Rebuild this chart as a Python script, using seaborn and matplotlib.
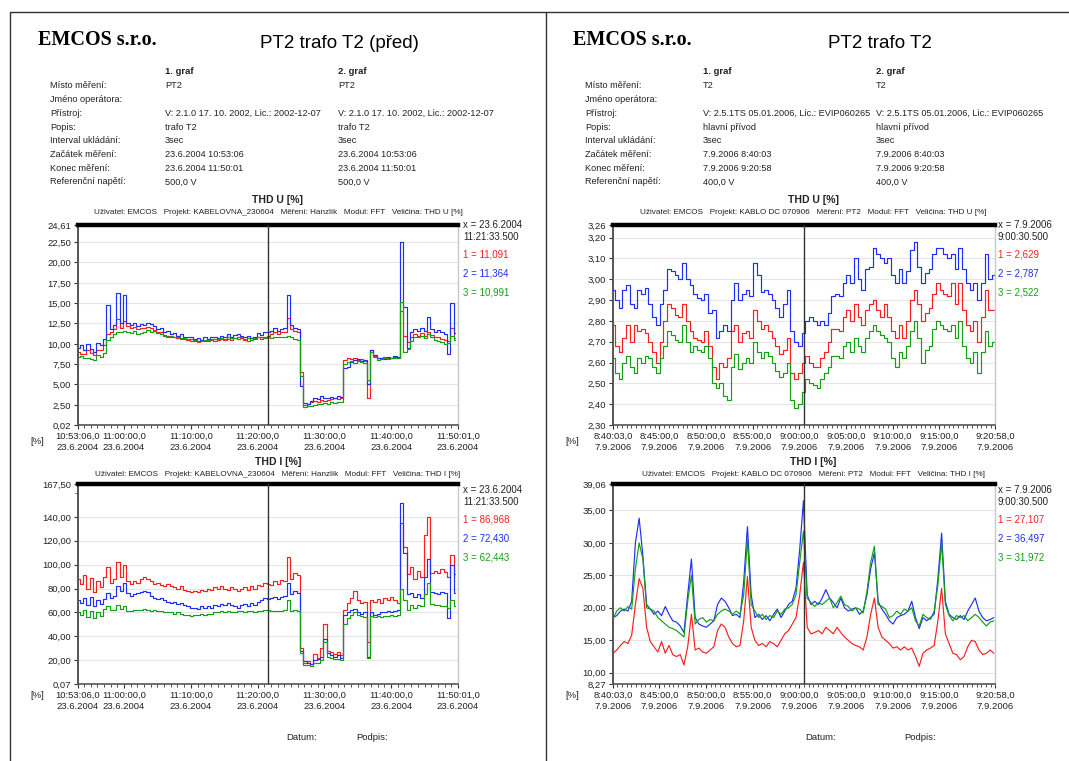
import numpy as np
import pandas as pd
import matplotlib
matplotlib.use("Agg")
import matplotlib.pyplot as plt
from matplotlib.lines import Line2D
from matplotlib.ticker import FixedLocator
import seaborn as sns

# ---------------- data ----------------
# left page: THD U [%] and THD I [%], samples every 0.5 min from 10:53:06
left_t = np.arange(114) * 0.5
left_u_red = [9.0, 8.8, 8.7, 9.2, 8.9, 8.6, 9.3, 9.2, 9.8, 11.2,
              11.5, 11.8, 13.0, 12.0, 12.8, 12.2, 11.9, 12.1, 11.8, 12.0,
              11.9, 12.1, 11.9, 11.7, 11.4, 11.5, 11.1, 11.0, 10.9, 10.8,
              10.7, 10.6, 10.6, 10.5, 10.4, 10.3, 10.2, 10.3, 10.4, 10.4,
              10.5, 10.4, 10.5, 10.6, 10.5, 10.6, 10.5, 10.7, 10.6, 10.7,
              10.5, 10.4, 10.5, 10.6, 10.8, 10.6, 10.9, 11.0, 11.2, 11.4,
              11.2, 11.4, 11.5, 13.2, 11.8, 11.6, 11.4, 6.5, 2.5, 2.6,
              2.8, 3.0, 2.9, 3.1, 3.0, 3.1, 3.2, 3.3, 3.2, 3.3,
              8.0, 8.2, 8.1, 8.2, 8.0, 8.1, 7.9, 3.3, 9.3, 8.5,
              8.3, 8.2, 8.4, 8.3, 8.2, 8.4, 8.3, 14.0, 11.0, 10.2,
              10.8, 11.2, 11.0, 11.3, 11.0, 11.5, 11.1, 10.9, 10.8, 10.6,
              10.5, 10.3, 12.0, 10.7]
left_u_blue = [9.5, 9.8, 9.2, 10.0, 9.4, 9.0, 10.1, 9.8, 10.6, 14.8,
               11.8, 12.3, 16.2, 12.5, 16.0, 12.6, 12.3, 12.6, 12.2, 12.4,
               12.3, 12.5, 12.4, 12.2, 11.8, 11.9, 11.4, 11.6, 11.2, 11.3,
               11.0, 11.2, 10.9, 10.8, 10.9, 10.6, 10.7, 10.5, 10.8, 10.6,
               10.9, 10.8, 10.7, 11.0, 10.8, 11.2, 10.9, 11.1, 11.2, 11.0,
               10.8, 11.0, 10.7, 10.9, 11.3, 11.1, 11.5, 11.5, 11.6, 11.9,
               11.6, 11.8, 12.0, 16.0, 12.3, 12.0, 11.8, 4.8, 2.7, 2.6,
               3.0, 3.3, 3.2, 3.6, 3.3, 3.4, 3.5, 3.4, 3.6, 3.5,
               7.0, 7.2, 7.8, 8.0, 8.1, 7.9, 8.0, 5.0, 9.2, 8.6,
               8.2, 8.3, 8.1, 8.4, 8.3, 8.5, 8.4, 22.5, 14.5, 9.5,
               11.5, 11.8, 11.6, 11.9, 11.6, 13.3, 11.8, 11.4, 11.7, 11.5,
               11.2, 8.7, 15.0, 11.3]
left_u_green = [8.4, 8.5, 8.2, 8.3, 8.1, 8.0, 8.6, 8.4, 8.9, 10.5,
                10.9, 11.2, 11.4, 11.5, 11.6, 11.4, 11.3, 11.6, 11.2, 11.3,
                11.4, 11.7, 11.5, 11.6, 11.3, 11.2, 11.0, 10.9, 11.0, 10.9,
                10.8, 10.7, 10.7, 10.6, 10.6, 10.5, 10.4, 10.4, 10.5, 10.5,
                10.6, 10.6, 10.6, 10.7, 10.6, 10.8, 10.7, 10.7, 10.8, 10.8,
                10.6, 10.7, 10.5, 10.7, 10.9, 10.8, 10.7, 10.8, 10.7, 10.9,
                10.8, 10.9, 10.8, 11.0, 10.9, 10.6, 10.5, 6.0, 2.2, 2.3,
                2.4, 2.5, 2.6, 2.6, 2.7, 2.6, 2.8, 2.7, 2.8, 2.9,
                7.5, 7.8, 7.9, 7.7, 7.9, 7.8, 7.7, 5.5, 9.0, 8.4,
                8.0, 8.1, 8.2, 8.1, 8.2, 8.3, 8.2, 15.2, 9.0, 9.4,
                10.3, 10.9, 10.8, 11.0, 10.7, 11.2, 10.8, 10.5, 10.4, 10.2,
                10.0, 10.1, 11.0, 10.5]
left_i_red = [88, 84, 91, 80, 89, 77, 86, 81, 90, 98,
              85, 88, 102, 90, 100, 86, 84, 86, 85, 88,
              90, 88, 86, 84, 85, 83, 82, 84, 82, 81,
              80, 82, 79, 78, 77, 78, 77, 79, 78, 80,
              79, 81, 80, 82, 80, 79, 81, 80, 78, 80,
              81, 79, 82, 80, 83, 82, 85, 84, 83, 86,
              84, 87, 86, 106, 88, 93, 91, 30, 18, 19,
              17, 25, 22, 30, 50, 28, 27, 25, 27, 24,
              62, 68, 72, 78, 70, 68, 69, 35, 70, 69,
              71, 68, 72, 70, 73, 70, 68, 135, 115, 92,
              98, 88, 95, 90, 125, 140, 93, 95, 93, 96,
              94, 90, 108, 92]
left_i_blue = [70, 68, 72, 66, 73, 65, 70, 67, 71, 76,
               72, 74, 82, 78, 85, 76, 74, 75, 76, 77,
               78, 77, 74, 72, 71, 72, 70, 69, 68, 69,
               67, 68, 66, 65, 64, 64, 63, 65, 64, 65,
               64, 66, 65, 67, 66, 68, 66, 65, 64, 66,
               67, 65, 68, 66, 69, 70, 72, 71, 72, 73,
               71, 73, 74, 85, 75, 78, 76, 28, 19, 18,
               17, 20, 21, 23, 38, 26, 24, 23, 24, 22,
               58, 60, 62, 63, 60, 59, 60, 23, 60, 58,
               59, 60, 60, 61, 60, 61, 62, 152, 110, 75,
               76, 73, 75, 72, 90, 105, 77, 76, 75, 77,
               76, 55, 100, 76]
left_i_green = [60, 58, 62, 56, 61, 55, 60, 57, 63, 65,
                62, 62, 66, 63, 65, 61, 61, 62, 62, 62,
                63, 62, 61, 62, 61, 61, 60, 60, 60, 59,
                60, 59, 58, 58, 57, 58, 58, 59, 58, 59,
                59, 60, 60, 61, 60, 61, 60, 60, 61, 61,
                60, 61, 61, 60, 61, 61, 62, 62, 61, 61,
                61, 61, 62, 70, 61, 62, 61, 26, 16, 16,
                15, 18, 18, 20, 35, 23, 22, 21, 21, 20,
                50, 55, 58, 60, 58, 57, 56, 22, 57, 56,
                57, 56, 57, 57, 58, 57, 58, 80, 70, 62,
                66, 64, 66, 65, 75, 85, 67, 66, 66, 65,
                65, 64, 70, 65]

# right page: samples every 0.4 min from 8:40:03
right_t = np.arange(103) * 0.4
right_u_red = [2.78, 2.68, 2.65, 2.72, 2.78, 2.70, 2.78, 2.75, 2.76, 2.74,
               2.70, 2.65, 2.60, 2.70, 2.80, 2.88, 2.86, 2.83, 2.82, 2.88,
               2.80, 2.75, 2.72, 2.71, 2.70, 2.75, 2.68, 2.58, 2.52, 2.60,
               2.58, 2.62, 2.75, 2.78, 2.70, 2.74, 2.75, 2.72, 2.85, 2.80,
               2.76, 2.78, 2.75, 2.72, 2.68, 2.64, 2.66, 2.72, 2.55, 2.52,
               2.55, 2.60, 2.63, 2.60, 2.58, 2.58, 2.62, 2.65, 2.70, 2.76,
               2.76, 2.75, 2.82, 2.85, 2.80, 2.88, 2.82, 2.78, 2.85, 2.88,
               2.90, 2.85, 2.82, 2.88, 2.82, 2.75, 2.72, 2.78, 2.72, 2.80,
               2.90, 2.95, 2.88, 2.80, 2.84, 2.86, 2.93, 2.98, 2.95, 2.93,
               2.92, 2.98, 2.88, 2.98, 2.85, 2.78, 2.75, 2.80, 2.70, 2.82,
               2.95, 2.85, 2.85]
right_u_blue = [2.95, 2.90, 2.86, 2.95, 2.97, 2.88, 2.86, 2.95, 2.93, 2.96,
                2.88, 2.82, 2.78, 2.88, 2.95, 3.05, 3.04, 3.02, 3.00, 3.08,
                3.00, 2.97, 2.93, 2.91, 2.90, 2.93, 2.84, 2.85, 2.72, 2.75,
                2.78, 2.75, 2.90, 2.98, 2.90, 2.93, 2.95, 2.92, 3.08, 3.02,
                2.94, 2.95, 2.93, 2.90, 2.86, 2.82, 2.88, 2.95, 2.75, 2.70,
                2.68, 2.74, 2.80, 2.82, 2.80, 2.78, 2.80, 2.78, 2.84, 2.92,
                2.93, 2.92, 2.98, 3.02, 2.98, 3.10, 3.00, 2.95, 3.05, 3.06,
                3.15, 3.12, 3.10, 3.08, 3.10, 3.02, 2.98, 3.05, 2.98, 3.04,
                3.14, 3.18, 3.06, 2.98, 3.03, 3.05, 3.12, 3.15, 3.15, 3.12,
                3.10, 3.12, 3.05, 3.15, 3.05, 2.98, 2.95, 2.98, 2.90, 2.98,
                3.12, 3.00, 3.02]
right_u_green = [2.62, 2.55, 2.52, 2.60, 2.63, 2.58, 2.55, 2.62, 2.60, 2.63,
                 2.62, 2.58, 2.55, 2.62, 2.68, 2.75, 2.73, 2.71, 2.70, 2.78,
                 2.70, 2.65, 2.68, 2.66, 2.65, 2.68, 2.62, 2.50, 2.48, 2.50,
                 2.44, 2.42, 2.58, 2.64, 2.57, 2.60, 2.62, 2.60, 2.70, 2.65,
                 2.62, 2.65, 2.63, 2.60, 2.56, 2.53, 2.55, 2.60, 2.42, 2.38,
                 2.40, 2.46, 2.52, 2.50, 2.49, 2.48, 2.52, 2.55, 2.58, 2.63,
                 2.63, 2.62, 2.68, 2.70, 2.65, 2.72, 2.68, 2.65, 2.72, 2.75,
                 2.78, 2.75, 2.73, 2.72, 2.70, 2.62, 2.58, 2.65, 2.62, 2.68,
                 2.75, 2.80, 2.72, 2.60, 2.66, 2.68, 2.76, 2.80, 2.78, 2.76,
                 2.75, 2.78, 2.72, 2.80, 2.68, 2.62, 2.60, 2.65, 2.55, 2.65,
                 2.75, 2.68, 2.70]
right_i_red = [13.0, 13.5, 14.2, 14.8, 14.5, 15.8, 20.5, 24.5, 23.0, 17.0,
               14.8, 14.0, 13.2, 14.8, 13.0, 14.2, 12.8, 12.5, 12.8, 11.2,
               14.0, 19.0, 13.5, 13.8, 13.2, 13.0, 13.5, 14.0, 16.5, 17.5,
               17.0, 15.5, 14.5, 14.0, 14.2, 18.0, 24.8, 17.0, 15.0, 14.2,
               14.5, 14.0, 14.8, 14.5, 14.0, 15.0, 16.0, 16.5, 17.5, 18.5,
               22.0, 27.0, 17.0, 16.0, 16.2, 16.5, 16.0, 17.0, 16.5, 16.0,
               17.0, 16.2, 15.5, 15.0, 14.5, 14.2, 14.0, 13.5, 15.5, 19.0,
               21.5, 17.0, 15.5, 15.0, 14.5, 13.8, 14.0, 13.5, 14.0, 13.5,
               13.8, 12.5, 11.0, 13.0, 13.5, 13.8, 14.2, 18.0, 23.0, 16.0,
               14.5, 13.0, 12.8, 12.0, 12.5, 14.0, 15.0, 14.8, 13.5, 12.8,
               13.0, 13.5, 13.0]
right_i_blue = [18.5, 18.8, 19.5, 19.8, 19.5, 21.0, 30.0, 33.8, 28.0, 20.5,
                19.8, 19.0, 19.5, 18.8, 20.2, 19.0, 18.0, 17.8, 17.2, 16.2,
                22.0, 27.5, 18.5, 17.5, 17.2, 17.0, 17.5, 18.0, 20.5, 21.5,
                21.0, 20.0, 18.8, 19.0, 18.5, 24.0, 32.5, 22.0, 18.5, 19.0,
                18.2, 18.8, 18.0, 19.0, 19.8, 18.5, 19.5, 20.5, 21.0, 23.0,
                29.0, 36.5, 22.0, 20.5, 21.0, 20.5, 21.5, 22.8, 21.5, 20.8,
                20.0, 21.5, 20.0, 19.5, 19.8, 20.0, 19.0, 19.5, 22.0, 26.0,
                28.5, 21.0, 19.8, 19.0, 18.0, 17.5, 18.5, 18.8, 19.0, 19.5,
                21.0, 18.5, 16.8, 18.5, 18.0, 18.5, 19.0, 24.5, 31.5, 21.0,
                19.0, 18.5, 18.2, 18.8, 18.2, 19.5, 20.5, 21.5, 19.5, 18.5,
                18.0, 18.2, 18.5]
right_i_green = [18.3, 19.5, 20.0, 19.5, 20.2, 19.8, 26.0, 30.0, 27.5, 20.0,
                 19.8, 19.5, 18.5, 18.0, 17.5, 17.0, 16.8, 16.5, 16.0, 15.5,
                 21.0, 25.0, 17.5, 18.2, 18.5, 17.8, 18.2, 18.0, 19.0, 19.5,
                 19.8, 19.5, 19.0, 19.5, 19.0, 22.0, 30.5, 20.5, 19.5, 18.5,
                 19.0, 18.2, 18.8, 18.5, 19.5, 19.0, 19.8, 20.0, 20.5, 22.0,
                 27.0, 31.8, 21.5, 20.8, 20.2, 20.8, 20.5, 21.0, 21.5, 20.0,
                 20.8, 21.8, 20.5, 20.2, 19.5, 20.0, 19.8, 19.2, 22.5, 27.0,
                 29.5, 20.5, 20.2, 19.8, 18.5, 18.8, 19.5, 19.0, 19.8, 19.5,
                 20.0, 18.0, 17.2, 19.0, 18.5, 18.2, 19.5, 23.5, 30.0, 20.5,
                 18.8, 18.0, 18.8, 18.5, 18.8, 18.0, 18.5, 19.0, 18.5, 17.8,
                 17.2, 17.8, 18.0]

# axis ticks (minutes from start) and labels
left_xmax = 56.917
left_xticks = [0, 6.9, 16.9, 26.9, 36.9, 46.9, 56.917]
left_xlabels = ["10:53:06,0\n23.6.2004", "11:00:00,0\n23.6.2004", "11:10:00,0\n23.6.2004",
                "11:20:00,0\n23.6.2004", "11:30:00,0\n23.6.2004", "11:40:00,0\n23.6.2004",
                "11:50:01,0\n23.6.2004"]
right_xmax = 40.917
right_xticks = [0, 4.95, 9.95, 14.95, 19.95, 24.95, 29.95, 34.95, 40.917]
right_xlabels = ["8:40:03,0\n7.9.2006", "8:45:00,0\n7.9.2006", "8:50:00,0\n7.9.2006",
                 "8:55:00,0\n7.9.2006", "9:00:00,0\n7.9.2006", "9:05:00,0\n7.9.2006",
                 "9:10:00,0\n7.9.2006", "9:15:00,0\n7.9.2006", "9:20:58,0\n7.9.2006"]

left_u_yticks = [0.02, 2.5, 5, 7.5, 10, 12.5, 15, 17.5, 20, 22.5, 24.61]
left_u_ylabels = ["0,02", "2,50", "5,00", "7,50", "10,00", "12,50", "15,00", "17,50", "20,00", "22,50", "24,61"]
left_i_yticks = [0.07, 20, 40, 60, 80, 100, 120, 140, 167.5]
left_i_ylabels = ["0,07", "20,00", "40,00", "60,00", "80,00", "100,00", "120,00", "140,00", "167,50"]
right_u_yticks = [2.30, 2.40, 2.50, 2.60, 2.70, 2.80, 2.90, 3.00, 3.10, 3.20, 3.26]
right_u_ylabels = ["2,30", "2,40", "2,50", "2,60", "2,70", "2,80", "2,90", "3,00", "3,10", "3,20", "3,26"]
right_i_yticks = [8.27, 10, 15, 20, 25, 30, 35, 39.06]
right_i_ylabels = ["8,27", "10,00", "15,00", "20,00", "25,00", "30,00", "35,00", "39,06"]

left_cursor = 28.458   # 11:21:33.500
right_cursor = 20.458  # 9:00:30.500

info_labels = ["Místo měření:", "Jméno operátora:", "Přístroj:", "Popis:", "Interval ukládání:",
               "Začátek měření:", "Konec měření:", "Referenční napětí:"]
left_info = ["PT2", "", "V: 2.1.0 17. 10. 2002, Lic.: 2002-12-07", "trafo T2", "3sec",
             "23.6.2004 10:53:06", "23.6.2004 11:50:01", "500,0 V"]
right_info = ["T2", "", "V: 2.5.1TS 05.01.2006, Lic.: EVIP060265", "hlavní přívod", "3sec",
              "7.9.2006 8:40:03", "7.9.2006 9:20:58", "400,0 V"]

left_u_legend = ["1 = 11,091", "2 = 11,364", "3 = 10,991"]
left_i_legend = ["1 = 86,968", "2 = 72,430", "3 = 62,443"]
right_u_legend = ["1 = 2,629", "2 = 2,787", "3 = 2,522"]
right_i_legend = ["1 = 27,107", "2 = 36,497", "3 = 31,972"]

# ---------------- style ----------------
sns.set_theme(style="ticks")
plt.rcParams['font.family'] = ['Liberation Sans', 'DejaVu Sans']
RED, BLUE, GREEN = "#ff1e1e", "#1e2eff", "#12a012"
TXT = "#222222"

W, H = 1069, 761
fig = plt.figure(figsize=(W / 100, H / 100), dpi=100)
fig.patch.set_facecolor("white")


def fx(x):
    return x / W


def fy(y):
    return 1 - y / H


def ftext(x, y, s, **kw):
    kw.setdefault("color", TXT)
    kw.setdefault("va", "center")
    fig.text(fx(x), fy(y), s, **kw)


def chart(box, t, reds, blues, greens, yticks, ylabels, xticks, xlabels, xmax,
          minor, cursor, minor_y=None, steps=True):
    x0, y0, x1, y1 = box
    ax = fig.add_axes([fx(x0), fy(y1), (x1 - x0) / W, (y1 - y0) / H])
    n = len(t)
    df = pd.DataFrame({"t": np.tile(t, 3),
                       "v": np.concatenate([reds, blues, greens]),
                       "k": np.repeat(["1", "2", "3"], n)})
    sns.lineplot(data=df, x="t", y="v", hue="k", hue_order=["1", "2", "3"],
                 palette=[RED, BLUE, GREEN], estimator=None, sort=False,
                 legend=False, lw=0.85, drawstyle="steps-mid" if steps else "default", ax=ax)
    ax.set_xlim(0, xmax)
    ax.set_ylim(yticks[0], yticks[-1])
    ax.set_yticks(yticks)
    ax.set_yticklabels(ylabels)
    ax.set_xticks(xticks)
    ax.set_xticklabels(xlabels, linespacing=1.3)
    ax.xaxis.set_minor_locator(FixedLocator(minor))
    if minor_y is not None:
        ax.yaxis.set_minor_locator(FixedLocator(minor_y))
    ax.tick_params(axis="both", which="major", labelsize=6.8, length=3, width=0.8,
                   color="#333333", labelcolor=TXT, pad=2, direction="out",
                   bottom=True, left=True)
    ax.tick_params(axis="both", which="minor", length=2, width=0.6, color="#333333",
                   bottom=True, left=True)
    ax.set_xlabel("")
    ax.set_ylabel("")
    ax.grid(axis="y", color="#e6e6e6", lw=0.8)
    ax.set_axisbelow(True)
    ax.set_facecolor("white")
    ax.spines["top"].set_color("black")
    ax.spines["top"].set_linewidth(3.2)
    ax.spines["left"].set_color("#555555")
    ax.spines["left"].set_linewidth(1.4)
    ax.spines["bottom"].set_color("#555555")
    ax.spines["bottom"].set_linewidth(1.2)
    ax.spines["right"].set_color("#c8c8c8")
    ax.spines["right"].set_linewidth(1.0)
    ax.axvline(cursor, color="#333333", lw=1.0, zorder=5)
    return ax


left_minor = list(np.arange(0.9, 56.9, 1.0))
right_minor = list(np.arange(0.45, 40.9, 0.5))

chart((78, 225, 458, 425), left_t, left_u_red, left_u_blue, left_u_green,
      left_u_yticks, left_u_ylabels, left_xticks, left_xlabels, left_xmax, left_minor, left_cursor)
chart((78, 484, 458, 684), left_t, left_i_red, left_i_blue, left_i_green,
      left_i_yticks, left_i_ylabels, left_xticks, left_xlabels, left_xmax, left_minor, left_cursor,
      minor_y=[160])
chart((613, 225, 995, 425), right_t, right_u_red, right_u_blue, right_u_green,
      right_u_yticks, right_u_ylabels, right_xticks, right_xlabels, right_xmax, right_minor, right_cursor)
chart((613, 484, 995, 684), right_t, right_i_red, right_i_blue, right_i_green,
      right_i_yticks, right_i_ylabels, right_xticks, right_xlabels, right_xmax, right_minor, right_cursor,
      steps=False)

# ---------------- texts ----------------
pages = [
    dict(x0=0, emcos_x=38, title="PT2 trafo T2 (před)", title_x=339, lab_x=50, c1=165, c2=338,
         info=left_info, center=278, proj="KABELOVNA_230604", mer="Hanzlík",
         lx=463, xdate="x = 23.6.2004", xtime="11:21:33.500",
         uleg=left_u_legend, ileg=left_i_legend, pct_x=37, datum=302, podpis=372),
    dict(x0=545, emcos_x=573, title="PT2 trafo T2", title_x=880, lab_x=585, c1=703, c2=876,
         info=right_info, center=813, proj="KABLO DC 070906", mer="PT2",
         lx=998, xdate="x = 7.9.2006", xtime="9:00:30.500",
         uleg=right_u_legend, ileg=right_i_legend, pct_x=572, datum=821, podpis=920),
]
for p in pages:
    ftext(p["emcos_x"], 40, "EMCOS s.r.o.", family="Liberation Serif", weight="bold",
          fontsize=14.5, color="black", ha="left")
    ftext(p["title_x"], 43, p["title"], fontsize=13.5, color="black", ha="center")
    ftext(p["c1"], 72, "1. graf", fontsize=6.8, weight="bold", ha="left")
    ftext(p["c2"], 72, "2. graf", fontsize=6.8, weight="bold", ha="left")
    for i, (lab, val) in enumerate(zip(info_labels, p["info"])):
        yy = 86 + i * 13.7
        ftext(p["lab_x"], yy, lab, fontsize=6.6, ha="left")
        ftext(p["c1"], yy, val, fontsize=6.6, ha="left")
        ftext(p["c2"], yy, val, fontsize=6.6, ha="left")
    for (ty, sy, q, leg, ly) in [(200, 212, "THD U [%]", p["uleg"], 225),
                                 (462, 475, "THD I [%]", p["ileg"], 490)]:
        ftext(p["center"], ty, q, fontsize=7.5, weight="bold", ha="center")
        ftext(p["center"], sy,
              "Uživatel: EMCOS   Projekt: %s   Měření: %s   Modul: FFT   Veličina: %s"
              % (p["proj"], p["mer"], q), fontsize=5.9, ha="center")
        ftext(p["lx"], ly, p["xdate"], fontsize=7, ha="left")
        ftext(p["lx"], ly + 11.5, p["xtime"], fontsize=7, ha="left")
        for k, (s, c) in enumerate(zip(leg, [RED, BLUE, GREEN])):
            ftext(p["lx"], ly + 30 + 18.7 * k, s, fontsize=7, ha="left", color=c)
    ftext(p["pct_x"], 441, "[%]", fontsize=6.8, ha="center")
    ftext(p["pct_x"], 695, "[%]", fontsize=6.8, ha="center")
    ftext(p["datum"], 737, "Datum:", fontsize=6.8, ha="center")
    ftext(p["podpis"], 737, "Podpis:", fontsize=6.8, ha="center")

# page borders
for (xa, ya, xb, yb) in [(10, 12, 546, 12), (10, 12, 10, 761), (546, 12, 546, 761), (546, 12, 1069, 12)]:
    fig.add_artist(Line2D([fx(xa), fx(xb)], [fy(ya), fy(yb)], color="#333333", lw=1.0,
                          transform=fig.transFigure))

fig.savefig("out.png", dpi=100, facecolor="white")
